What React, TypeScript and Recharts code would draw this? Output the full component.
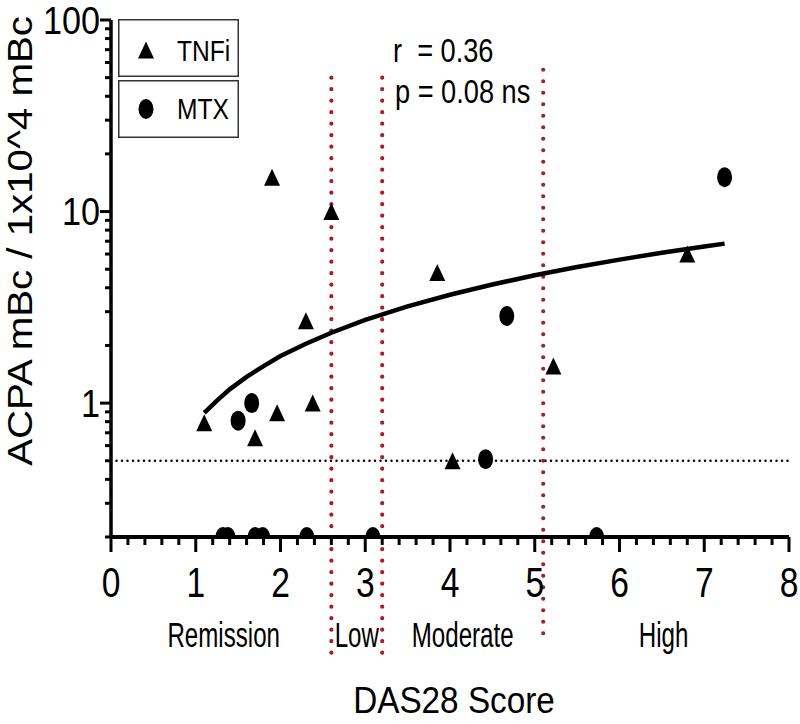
import React from "react";
import { ScatterChart, Scatter, XAxis, YAxis, ReferenceLine, Legend } from "recharts";

const FONT = "'Liberation Sans', Arial, Helvetica, sans-serif";

// DAS28 score vs ACPA mBc
const tnfiDas = [1.1, 1.7, 1.96, 1.9, 2.3, 2.38, 2.6, 2.3, 3.85, 4.03, 5.22, 6.8];
const tnfiAcpa = [0.79, 0.66, 0.89, 15.1, 2.69, 1.0, 10, 0.2, 4.8, 0.5, 1.56, 6.0];
const mtxDas = [1.32, 1.38, 1.5, 1.66, 1.7, 1.79, 2.31, 3.09, 4.42, 4.67, 5.73, 7.24];
const mtxAcpa = [0.2, 0.2, 0.81, 1.0, 0.2, 0.2, 0.2, 0.2, 0.51, 2.85, 0.2, 15.1];

// fitted curve
const fitDas = [1.1, 1.25, 1.4, 1.6, 1.8, 2.0, 2.3, 2.6, 3.0, 3.5, 4.0, 4.5, 5.0, 5.5, 6.0, 6.5, 7.0, 7.24];
const fitAcpa = [0.89, 1.03, 1.18, 1.37, 1.56, 1.76, 2.04, 2.33, 2.72, 3.2, 3.68, 4.16, 4.65, 5.13, 5.61, 6.09, 6.57, 6.8];

const seriesNames = ["TNFi", "MTX"];
const cutoffs = [2.6, 3.2, 5.1];
const threshold = 0.5;
const zoneNames = ["Remission", "Low", "Moderate", "High"];
const zoneCenters = [1.33, 2.9, 4.15, 6.52];

const xLabels = [0, 1, 2, 3, 4, 5, 6, 7, 8];
const xTicks = [
  0, 0.2, 0.4, 0.6, 0.8, 1, 1.2, 1.4, 1.6, 1.8, 2, 2.2, 2.4, 2.6, 2.8, 3, 3.2, 3.4, 3.6, 3.8, 4,
  4.2, 4.4, 4.6, 4.8, 5, 5.2, 5.4, 5.6, 5.8, 6, 6.2, 6.4, 6.6, 6.8, 7, 7.2, 7.4, 7.6, 7.8, 8,
];
const yLabels = [1, 10, 100];
const yTicks = [
  0.2, 0.3, 0.4, 0.5, 0.6, 0.7, 0.8, 0.9, 1, 2, 3, 4, 5, 6, 7, 8, 9, 10, 20, 30, 40, 50, 60, 70, 80, 90, 100,
];

const tnfi = tnfiDas.map((x, i) => ({ x, y: tnfiAcpa[i] }));
const mtx = mtxDas.map((x, i) => ({ x, y: mtxAcpa[i] }));
const fit = fitDas.map((x, i) => ({ x, y: fitAcpa[i] }));

const SText = ({ x, y, size, sx = 1, anchor = "middle", rotate = 0, children }: any) => (
  <text
    transform={`translate(${x} ${y}) rotate(${rotate}) scale(${sx} 1)`}
    fontSize={size}
    fontFamily={FONT}
    textAnchor={anchor}
    fill="#000"
  >
    {children}
  </text>
);

const Tri = ({ cx, cy }: any) => (
  <polygon points={`${cx - 8},${cy + 8.5} ${cx + 8},${cy + 8.5} ${cx},${cy - 8.5}`} fill="#000" />
);
const Dot = ({ cx, cy }: any) => <ellipse cx={cx} cy={cy} rx={7.5} ry={10} fill="#000" />;

const YTick = ({ x, y, payload }: any) => {
  const major = yLabels.includes(payload.value);
  return (
    <g>
      <line x1={x} x2={x - (major ? 11 : 6)} y1={y} y2={y} stroke="#000" strokeWidth={3} />
      {major && (
        <SText x={x - 11} y={y + 13.5} size={38} sx={0.9} anchor="end">
          {payload.value}
        </SText>
      )}
    </g>
  );
};

// main ticks carry both the score marks and the activity zone names
const XTick = ({ x, y, payload }: any) => {
  const zone = zoneCenters.indexOf(payload.value);
  if (zone >= 0) {
    return (
      <SText x={x} y={y + 110} size={36} sx={0.67}>
        {zoneNames[zone]}
      </SText>
    );
  }
  const major = xLabels.includes(payload.value);
  return (
    <g>
      <line x1={x} x2={x} y1={y} y2={y + (major ? 15 : 8)} stroke="#000" strokeWidth={3} />
      {major && (
        <SText x={x} y={y + 60} size={42} sx={0.8}>
          {payload.value}
        </SText>
      )}
    </g>
  );
};

const XTitle = ({ viewBox }: any) => (
  <SText x={viewBox.x + viewBox.width / 2 + 4} y={viewBox.y + viewBox.height - 11} size={37} sx={0.9}>
    DAS28 Score
  </SText>
);

const YTitle = ({ viewBox }: any) => (
  <SText x={viewBox.x + 32} y={241} size={35} sx={1.15} rotate={-90}>
    ACPA mBc / 1x10^4 mBc
  </SText>
);

const LegendBoxes = ({ payload }: any) => (
  <div>
    {seriesNames
      .filter((n) => (payload || []).some((e: any) => e.value === n))
      .map((name, i) => (
        <svg key={name} width={121} height={58} style={{ display: "block", marginBottom: 3 }}>
          <rect x={0.75} y={0.75} width={119.5} height={56.5} fill="#fff" stroke="#333" strokeWidth={1.5} />
          {name === "TNFi" ? <Tri cx={28} cy={31} /> : <Dot cx={28} cy={29} />}
          <SText x={59} y={i === 0 ? 42 : 39} size={30} sx={0.82} anchor="start">
            {name}
          </SText>
        </svg>
      ))}
  </div>
);

const redDots = { stroke: "#a81e22", strokeWidth: 4.2, strokeDasharray: "0 11.5", strokeLinecap: "round" as const };

export default function App() {
  return (
    <div style={{ position: "absolute", left: 0, top: 0, width: 800, height: 724, background: "#fff" }}>
      <ScatterChart width={800} height={724} margin={{ top: 20, right: 11, bottom: 0, left: 0 }}>
        <XAxis
          dataKey="x"
          type="number"
          domain={[0, 8]}
          ticks={[...xTicks, ...zoneCenters]}
          interval={0}
          tickSize={0}
          tickMargin={0}
          tick={<XTick />}
          axisLine={{ stroke: "#000", strokeWidth: 4 }}
          height={187}
          allowDataOverflow
          label={<XTitle />}
        />
        <YAxis
          dataKey="y"
          type="number"
          scale="log"
          domain={[0.2, 100]}
          ticks={yTicks}
          interval={0}
          tickSize={0}
          tickMargin={0}
          tick={<YTick />}
          axisLine={{ stroke: "#000", strokeWidth: 3.5 }}
          width={111}
          allowDataOverflow
          label={<YTitle />}
        />
        <Legend
          layout="vertical"
          align="center"
          verticalAlign="middle"
          content={<LegendBoxes />}
          wrapperStyle={{ left: 118, top: 19, width: 121 }}
        />
        <Scatter
          data={fit}
          line={{ stroke: "#000", strokeWidth: 4.5 }}
          lineType="joint"
          shape={() => <g />}
          legendType="none"
          isAnimationActive={false}
        />
        <Scatter name="TNFi" data={tnfi} fill="#000" shape={<Tri />} isAnimationActive={false} />
        <Scatter name="MTX" data={mtx} fill="#000" shape={<Dot />} isAnimationActive={false} />
        <ReferenceLine
          y={threshold}
          stroke="#000"
          strokeWidth={2.5}
          strokeDasharray="0 5.5"
          strokeLinecap="round"
        />
        {cutoffs.map((c, i) => (
          <ReferenceLine
            key={c}
            ifOverflow="visible"
            segment={[
              { x: c, y: i < 2 ? 50 : 55 },
              { x: c, y: i < 2 ? 0.044 : 0.057 },
            ]}
            {...redDots}
          />
        ))}
      </ScatterChart>
      <svg width={800} height={724} style={{ position: "absolute", left: 0, top: 0, pointerEvents: "none" }}>
        <SText x={393} y={62} size={34} sx={0.8} anchor="start">
          {"r\u00a0 = 0.36"}
        </SText>
        <SText x={395} y={103} size={34} sx={0.8} anchor="start">
          p = 0.08 ns
        </SText>
      </svg>
    </div>
  );
}
